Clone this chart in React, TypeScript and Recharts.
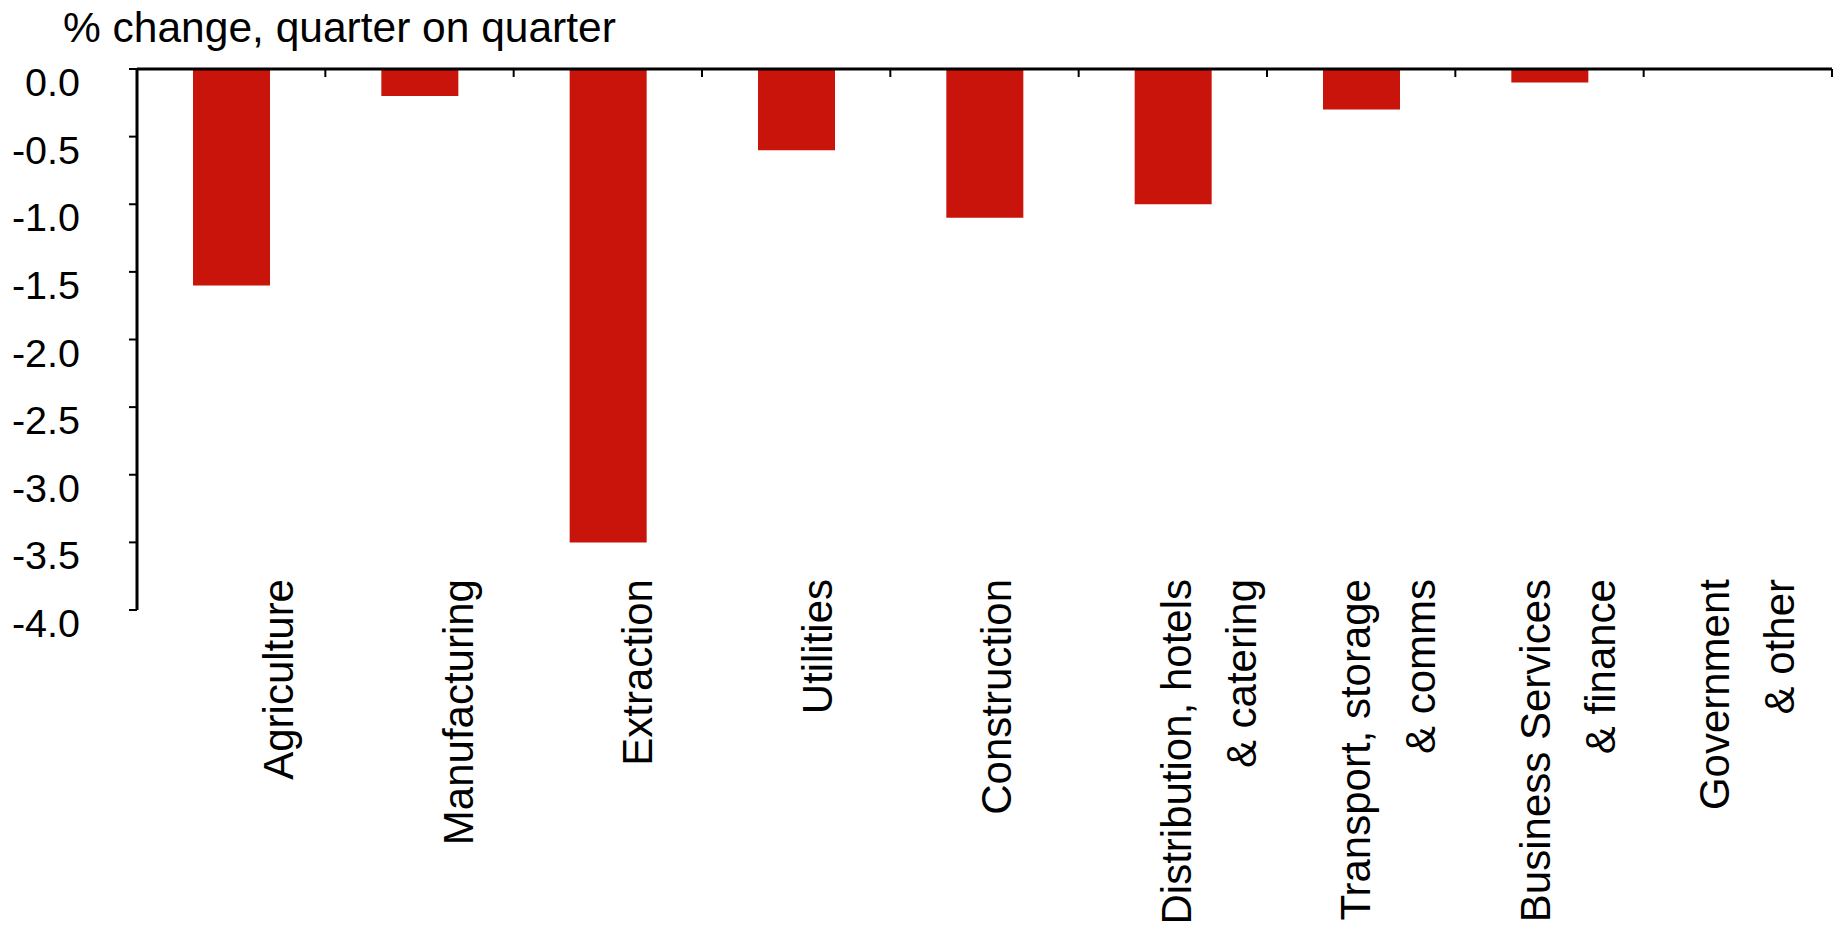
import { Bar, BarChart, XAxis, YAxis } from "recharts";

const categories = [
  "Agriculture",
  "Manufacturing",
  "Extraction",
  "Utilities",
  "Construction",
  "Distribution, hotels\n& catering",
  "Transport, storage\n& comms",
  "Business Services\n& finance",
  "Government\n& other",
];

const changes = [-1.6, -0.2, -3.5, -0.6, -1.1, -1.0, -0.3, -0.1, 0];

const yTicks = [0, -0.5, -1, -1.5, -2, -2.5, -3, -3.5, -4];

const data = categories.map((name, i) => ({ name, value: changes[i] }));

const FONT = "'Liberation Sans', Arial, Helvetica, sans-serif";
const PLOT_TOP = 69;
const BAND = (1832 - 137) / categories.length;

// excel puts the rotated labels a bit right of the category centre, drifting left
const CategoryTick = (props: any) => {
  const { x, index, payload } = props;
  const lines: string[] = String(payload.value).split("\n");
  const tx = x + BAND / 2;
  const bx = x + 62 - index * 8.8;
  return (
    <g>
      <line x1={tx} x2={tx} y1={PLOT_TOP} y2={PLOT_TOP + 8} stroke="#000" strokeWidth={2} />
      {lines.map((line, k) => {
        const lx = bx + k * 65;
        return (
          <text
            key={k}
            x={lx}
            y={579}
            transform={`rotate(-90, ${lx}, 579)`}
            textAnchor="end"
            fontSize={42}
            fontFamily={FONT}
            fill="#000"
          >
            {line}
          </text>
        );
      })}
    </g>
  );
};

const ValueTick = (props: any) => {
  const { y, payload } = props;
  return (
    <text x={80} y={y + 27} textAnchor="end" fontSize={39.5} fontFamily={FONT} fill="#000">
      {Number(payload.value).toFixed(1)}
    </text>
  );
};

const App = () => {
  return (
    <div style={{ position: "absolute", left: 0, top: 0, width: 1845, height: 937, background: "#fff" }}>
      <div
        style={{
          position: "absolute",
          left: 63,
          top: 7,
          fontSize: 42.5,
          lineHeight: "42px",
          fontFamily: FONT,
          color: "#000",
          whiteSpace: "nowrap",
        }}
      >
        % change, quarter on quarter
      </div>
      <BarChart
        width={1845}
        height={937}
        data={data}
        margin={{ top: 59, right: 13, bottom: 327, left: 0 }}
      >
        <XAxis
          dataKey="name"
          orientation="top"
          height={10}
          interval={0}
          axisLine={{ stroke: "#000", strokeWidth: 3 }}
          tickLine={false}
          tick={<CategoryTick />}
        />
        <YAxis
          width={137}
          domain={[-4, 0]}
          ticks={yTicks}
          interval={0}
          tickSize={8}
          axisLine={{ stroke: "#000", strokeWidth: 3 }}
          tickLine={{ stroke: "#000", strokeWidth: 2 }}
          tick={<ValueTick />}
        />
        <Bar dataKey="value" fill="#C8140A" barSize={77} isAnimationActive={false} />
      </BarChart>
    </div>
  );
};

export default App;
